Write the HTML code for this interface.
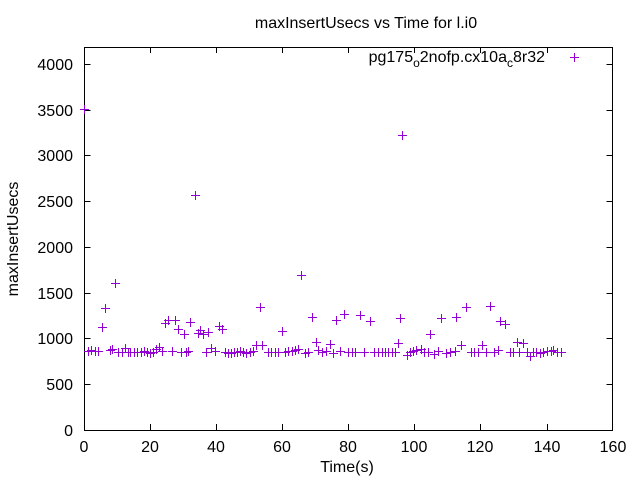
<!DOCTYPE html>
<html><head><meta charset="utf-8"><style>
html,body{margin:0;padding:0;background:#fff;}
svg{display:block;font-family:"Liberation Sans",sans-serif;}
</style></head><body>
<svg width="640" height="480" viewBox="0 0 640 480" xmlns="http://www.w3.org/2000/svg">
<rect width="640" height="480" fill="#fff"/>
<text x="366" y="28" font-size="16" text-anchor="middle">maxInsertUsecs vs Time for l.i0</text>
<g stroke="#000" stroke-width="1" fill="none">
<rect x="84.5" y="47.5" width="528" height="383"/>
<path d="M84.5 338.5h6M84.5 247.5h6M84.5 155.5h6M84.5 64.5h6M84.5 384.5h6M84.5 293.5h6M84.5 201.5h6M84.5 110.5h6
M612.5 338.5h-6M612.5 247.5h-6M612.5 155.5h-6M612.5 64.5h-6M612.5 384.5h-6M612.5 293.5h-6M612.5 201.5h-6M612.5 110.5h-6
M150.5 430v-6M216.5 430v-6M282.5 430v-6M348.5 430v-6M414.5 430v-6M480.5 430v-6M547.5 430v-6
M150.5 47v6M216.5 47v6M282.5 47v6M348.5 47v6M414.5 47v6M480.5 47v6M547.5 47v6"/>
</g>
<g font-size="16" text-anchor="end">
<text x="73" y="436">0</text><text x="73" y="390">500</text><text x="73" y="344">1000</text><text x="73" y="299">1500</text>
<text x="73" y="253">2000</text><text x="73" y="207">2500</text><text x="73" y="161">3000</text><text x="73" y="116">3500</text><text x="73" y="70">4000</text>
</g>
<g font-size="16" text-anchor="middle">
<text x="84" y="452">0</text><text x="150" y="452">20</text><text x="216" y="452">40</text><text x="282" y="452">60</text>
<text x="348" y="452">80</text><text x="414" y="452">100</text><text x="480" y="452">120</text><text x="547" y="452">140</text><text x="613" y="452">160</text>
<text x="347" y="472">Time(s)</text>
</g>
<text transform="translate(18,239) rotate(-90)" font-size="16" text-anchor="middle">maxInsertUsecs</text>
<text x="545" y="62" font-size="16" text-anchor="end">pg175<tspan font-size="12" dy="5">o</tspan><tspan dy="-5">2nofp.cx10a</tspan><tspan font-size="12" dy="5">c</tspan><tspan dy="-5">8r32</tspan></text>
<g id="pts" stroke="#9400d3" stroke-width="1" fill="none"></g>
</svg>
<script>
var p=[[574,57],[84,109],[88,351],[91,350],[95,351],[98,351],[102,327],[105,308],[110,350],[112,349],[115,283],[118,352],[122,352],[125,348],[128,352],[130,352],[134,352],[137,352],[141,352],[144,351],[147,352],[150,353],[153,352],[156,349],[159,347],[162,351],[165,323],[168,320],[172,351],[175,320],[178,329],[181,352],[184,334],[186,352],[188,351],[190,322],[195,195],[198,333],[200,330],[203,334],[206,352],[208,332],[211,348],[215,351],[219,326],[222,329],[225,352],[228,353],[231,353],[234,352],[237,352],[240,351],[243,352],[246,353],[250,352],[253,351],[256,345],[260,307],[262,345],[268,352],[271,352],[275,352],[278,352],[282,331],[285,352],[288,351],[292,351],[295,350],[298,349],[301,275],[305,353],[308,352],[312,317],[316,342],[318,350],[322,352],[326,351],[330,344],[333,353],[336,320],[340,351],[344,314],[348,352],[352,352],[355,352],[360,315],[364,352],[370,321],[374,352],[378,352],[382,352],[385,352],[388,352],[392,352],[395,352],[398,343],[400,318],[402,135],[407,355],[410,352],[413,351],[416,350],[421,349],[424,352],[428,352],[430,334],[434,354],[438,351],[441,318],[446,353],[450,352],[455,351],[456,317],[461,345],[466,307],[471,352],[474,352],[478,352],[482,345],[486,352],[490,306],[494,352],[498,350],[500,321],[505,324],[510,352],[513,352],[517,342],[519,352],[523,343],[527,352],[530,356],[533,352],[536,352],[540,353],[543,352],[547,351],[551,351],[553,350],[557,352],[561,352]];
var d="";p.forEach(function(q){d+="M"+(q[0]-4)+" "+(q[1]+.5)+"h9M"+(q[0]+.5)+" "+(q[1]-4)+"v9";});
var e=document.createElementNS("http://www.w3.org/2000/svg","path");e.setAttribute("d",d);document.getElementById("pts").appendChild(e);
</script>
</body></html>
